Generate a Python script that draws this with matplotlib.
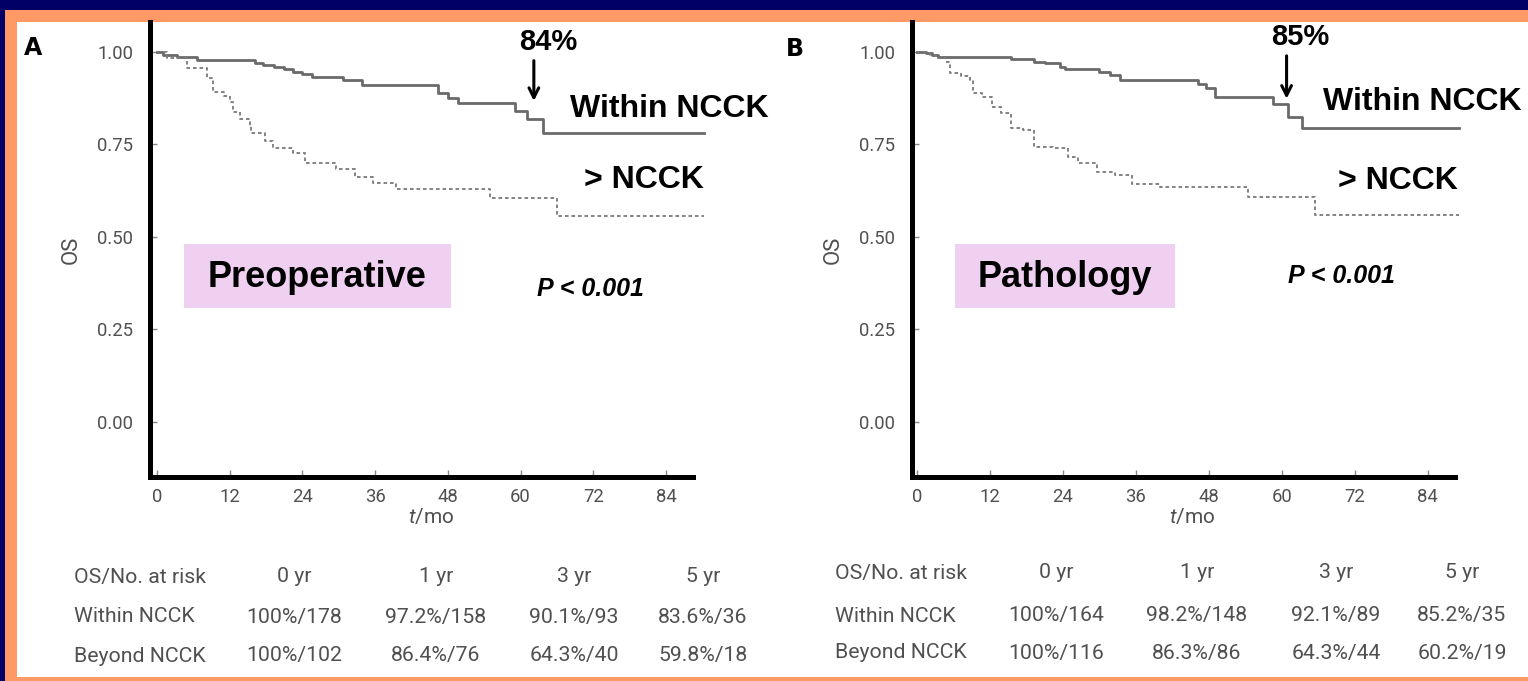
import matplotlib.pyplot as plt
from matplotlib.patches import Rectangle

# survival curves (months, OS)
a_within_t = [0, 1.0, 3.3, 6.6, 16.1, 17.5, 19.3, 21.0, 22.4, 24.0, 25.6, 30.7, 33.8, 46.4, 48.0, 49.6, 59.1, 61.0, 63.7, 90.3]
a_within_s = [1.0, 0.992, 0.986, 0.977, 0.969, 0.965, 0.960, 0.954, 0.947, 0.940, 0.933, 0.924, 0.910, 0.888, 0.876, 0.863, 0.841, 0.819, 0.780, 0.780]
a_beyond_t = [0, 1.6, 4.9, 8.2, 9.3, 11.0, 12.0, 12.6, 13.7, 15.3, 15.6, 17.8, 19.2, 22.5, 24.4, 29.6, 32.6, 35.6, 39.5, 55.0, 66.0, 90.3]
a_beyond_s = [1.0, 0.985, 0.956, 0.930, 0.893, 0.880, 0.866, 0.839, 0.820, 0.798, 0.780, 0.758, 0.740, 0.726, 0.700, 0.683, 0.662, 0.647, 0.629, 0.605, 0.557, 0.557]

b_within_t = [0, 1.5, 2.5, 3.5, 15.5, 19.2, 21.0, 23.6, 24.3, 29.9, 31.8, 33.4, 46.3, 47.5, 49.1, 58.6, 61.1, 63.3, 89.1]
b_within_s = [1.0, 0.996, 0.992, 0.987, 0.980, 0.974, 0.969, 0.960, 0.953, 0.947, 0.938, 0.924, 0.914, 0.902, 0.879, 0.859, 0.823, 0.794, 0.794]
b_beyond_t = [0, 2.2, 3.5, 4.8, 5.4, 7.3, 8.8, 9.2, 10.7, 12.3, 13.9, 15.5, 17.4, 19.3, 22.4, 24.9, 26.5, 29.6, 32.5, 35.3, 40.0, 54.4, 65.5, 89.1]
b_beyond_s = [1.0, 0.992, 0.983, 0.974, 0.942, 0.935, 0.924, 0.888, 0.879, 0.852, 0.834, 0.794, 0.789, 0.744, 0.740, 0.717, 0.699, 0.676, 0.668, 0.643, 0.636, 0.609, 0.559, 0.559]

x_ticks = [0, 12, 24, 36, 48, 60, 72, 84]
y_ticks = [0.0, 0.25, 0.5, 0.75, 1.0]

# at-risk tables
col_names = ['0 yr', '1 yr', '3 yr', '5 yr']
a_within_row = ['100%/178', '97.2%/158', '90.1%/93', '83.6%/36']
a_beyond_row = ['100%/102', '86.4%/76', '64.3%/40', '59.8%/18']
b_within_row = ['100%/164', '98.2%/148', '92.1%/89', '85.2%/35']
b_beyond_row = ['100%/116', '86.3%/86', '64.3%/44', '60.2%/19']

plt.rcParams['mathtext.fontset'] = 'custom'
plt.rcParams['mathtext.it'] = 'Roboto:italic'
plt.rcParams['mathtext.rm'] = 'Roboto'

W, H = 1528, 681
fig = plt.figure(figsize=(W / 100, H / 100), dpi=100, facecolor='#000066')


def fx(x):
    return x / W


def fy(y):
    return 1 - y / H


# slide frame: orange border + white card (behind the axes)
fig.patches.append(Rectangle((fx(5), 0), 1, fy(10), transform=fig.transFigure,
                             facecolor='#FF9966', edgecolor='none', zorder=-3))
fig.patches.append(Rectangle((fx(17), fy(677)), 1, fy(22) - fy(677), transform=fig.transFigure,
                             facecolor='white', edgecolor='none', zorder=-2))

small = 'Roboto'
sans = 'DejaVu Sans'
arial = 'Liberation Sans'
grey_txt = '#505050'


def draw_panel(ax, xlim, within_t, within_s, beyond_t, beyond_s):
    ax.set_facecolor('none')
    ax.step(within_t, within_s, where='post', color='#6a6a6a', lw=2.0)
    ax.step(beyond_t, beyond_s, where='post', color='#7a7a7a', lw=1.3, linestyle=(0, (2, 1.6)))
    ax.set_xlim(xlim)
    ax.set_ylim(-0.149, 1.081)
    for s in ['top', 'right']:
        ax.spines[s].set_visible(False)
    for s in ['left', 'bottom']:
        ax.spines[s].set_linewidth(3.6)
        ax.spines[s].set_color('black')
    ax.spines['bottom'].set_bounds(xlim[0], 88.5)
    ax.set_xticks(x_ticks)
    ax.set_xticklabels([str(v) for v in x_ticks])
    ax.set_yticks(y_ticks)
    ax.set_yticklabels(['%.2f' % v for v in y_ticks])
    ax.tick_params(direction='in', length=5, width=1, color='#888888',
                   labelcolor=grey_txt, labelsize=13.3)
    ax.tick_params(axis='y', pad=12)
    ax.tick_params(axis='x', pad=8)
    for lab in ax.get_xticklabels() + ax.get_yticklabels():
        lab.set_family(small)
    ax.set_xlabel(r'$\mathit{t}$/mo', fontsize=15, color=grey_txt, labelpad=1, family=small)
    ax.set_ylabel('OS', fontsize=16, color=grey_txt, labelpad=11, family=small)


def draw_table(x_left, col_x, rows_y, within_row, beyond_row):
    kw = dict(fontsize=15.3, color=grey_txt, family=small, va='center')
    fig.text(fx(x_left), fy(rows_y[0]), 'OS/No. at risk', ha='left', **kw)
    fig.text(fx(x_left), fy(rows_y[1]), 'Within NCCK', ha='left', **kw)
    fig.text(fx(x_left), fy(rows_y[2]), 'Beyond NCCK', ha='left', **kw)
    for i in range(len(col_names)):
        fig.text(fx(col_x[i]), fy(rows_y[0]), col_names[i], ha='center', **kw)
        fig.text(fx(col_x[i]), fy(rows_y[1]), within_row[i], ha='center', **kw)
        fig.text(fx(col_x[i]), fy(rows_y[2]), beyond_row[i], ha='center', **kw)


def annotate(ax, pct, arrow_x, arrow_top, arrow_tip, within_xy, beyond_xy, p_xy, box, box_label):
    ax.annotate('', xy=(arrow_x, arrow_tip), xytext=(arrow_x, arrow_top),
                arrowprops=dict(arrowstyle='->,head_length=0.7,head_width=0.35', color='black', lw=2.2),
                annotation_clip=False)
    ax.text(arrow_x + 2.3, arrow_top + 0.005, pct, fontsize=21, fontweight='bold', family=arial,
            ha='center', va='bottom', clip_on=False)
    ax.text(within_xy[0], within_xy[1], 'Within NCCK', fontsize=23, fontweight='bold', family=arial,
            ha='left', va='center', clip_on=False)
    ax.text(beyond_xy[0], beyond_xy[1], '> NCCK', fontsize=23, fontweight='bold', family=arial,
            ha='left', va='center')
    ax.text(p_xy[0], p_xy[1], 'P < 0.001', fontsize=18, fontweight='bold', style='italic', family=arial,
            ha='left', va='center')
    x0, x1, y0, y1 = box
    ax.add_patch(Rectangle((x0, y0), x1 - x0, y1 - y0, facecolor='#F0D0F0', edgecolor='none', zorder=0))
    ax.text((x0 + x1) / 2, (y0 + y1) / 2 - 0.003, box_label, fontsize=26, fontweight='bold', family=arial,
            ha='center', va='center')


axA = fig.add_axes([fx(150), fy(477), (712 - 150) / W, (477 - 22) / H])
draw_panel(axA, (-1.15, 91.6), a_within_t, a_within_s, a_beyond_t, a_beyond_s)
annotate(axA, '84%', 62.2, 0.984, 0.860, (68.2, 0.845), (70.5, 0.654), (62.7, 0.36),
         (4.46, 48.5, 0.308, 0.481), 'Preoperative')

axB = fig.add_axes([fx(912), fy(477), (1472 - 912) / W, (477 - 22) / H])
draw_panel(axB, (-0.82, 91.3), b_within_t, b_within_s, b_beyond_t, b_beyond_s)
annotate(axB, '85%', 60.8, 0.997, 0.866, (66.8, 0.866), (69.2, 0.651), (61.0, 0.395),
         (6.25, 42.4, 0.308, 0.481), 'Pathology')

fig.text(fx(33), fy(48), 'A', fontsize=17, fontweight='bold', family=sans, ha='center', va='center')
fig.text(fx(795), fy(49), 'B', fontsize=17, fontweight='bold', family=sans, ha='center', va='center')

draw_table(74, [294, 436, 574, 703], [577, 617, 656], a_within_row, a_beyond_row)
draw_table(835, [1056, 1197, 1336, 1462], [573, 616, 653], b_within_row, b_beyond_row)

fig.savefig('out.png', dpi=100, facecolor=fig.get_facecolor())
